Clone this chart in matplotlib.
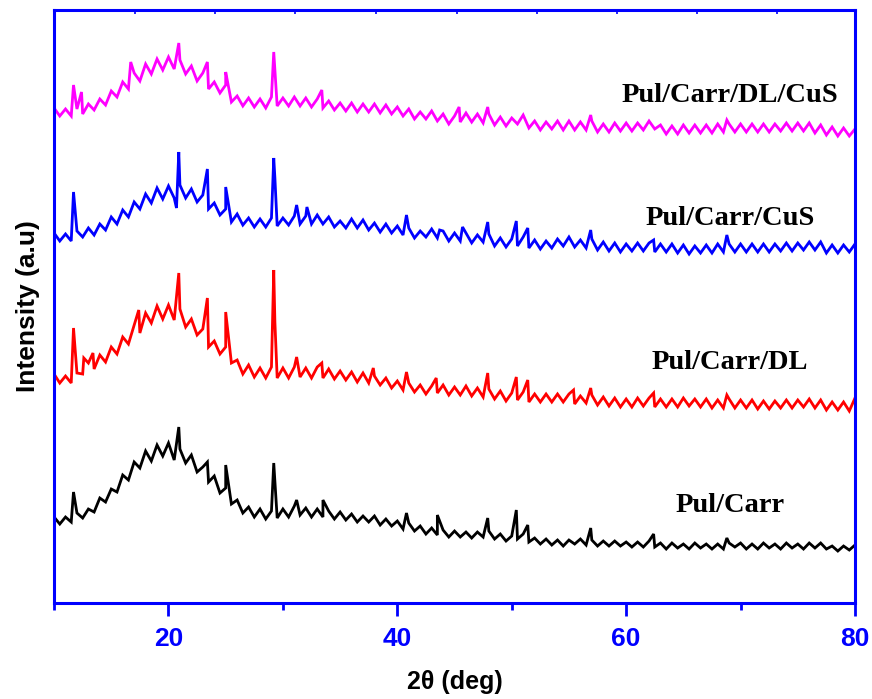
import numpy as np
import matplotlib
matplotlib.use('Agg')
import matplotlib.pyplot as plt

# 2-theta sampling grid (deg), 0.5 deg steps
theta = np.arange(10, 80.01, 0.5)

# intensities (a.u.), stacked traces
pul_carr = [86, 79, 86, 81, 90, 85, 94, 91, 105, 101, 114, 111, 128, 123, 141, 135,
            152, 142, 158, 147, 160, 143, 154, 140, 148, 131, 136, 121, 127, 110, 115, 99,
            103, 90, 96, 86, 94, 84, 92, 85, 94, 86, 97, 88, 95, 86, 94, 86,
            92, 84, 91, 83, 89, 81, 87, 81, 87, 78, 84, 77, 82, 74, 80, 72,
            77, 69, 75, 68, 73, 66, 72, 66, 71, 65, 71, 66, 72, 64, 69, 62,
            67, 64, 69, 61, 65, 59, 64, 58, 63, 57, 63, 59, 64, 58, 63, 57,
            62, 57, 62, 57, 61, 56, 61, 56, 62, 56, 60, 54, 60, 55, 59, 54,
            60, 55, 59, 54, 59, 54, 60, 56, 60, 54, 59, 54, 60, 55, 59, 54,
            60, 55, 59, 54, 60, 55, 60, 54, 57, 52, 57, 53, 58]
pul_carr_dl = [229, 220, 227, 220, 230, 229, 240, 234, 248, 241, 256, 249, 266, 259, 278, 270,
               290, 280, 297, 284, 298, 283, 294, 276, 284, 268, 274, 256, 262, 249, 256, 240,
               243, 229, 238, 226, 235, 225, 236, 225, 235, 225, 236, 226, 235, 225, 236, 225,
               234, 224, 232, 223, 231, 221, 230, 220, 227, 218, 225, 215, 222, 213, 220, 211,
               218, 209, 217, 210, 218, 208, 216, 208, 217, 207, 215, 206, 214, 204, 212, 202,
               210, 203, 211, 201, 209, 201, 209, 201, 209, 201, 209, 199, 207, 200, 208, 198,
               206, 197, 205, 196, 204, 196, 205, 197, 205, 196, 204, 196, 204, 196, 205, 197,
               204, 196, 204, 195, 203, 195, 204, 195, 203, 195, 203, 194, 202, 194, 202, 195,
               203, 195, 203, 196, 204, 195, 203, 193, 201, 193, 201, 192, 205]
pul_carr_cus = [370, 362, 369, 362, 372, 366, 375, 368, 379, 373, 386, 379, 393, 386, 401, 394,
                409, 400, 415, 404, 417, 405, 418, 405, 414, 401, 408, 394, 400, 388, 394, 381,
                389, 378, 385, 376, 384, 376, 385, 377, 385, 378, 387, 379, 387, 379, 388, 379,
                386, 376, 382, 375, 384, 375, 383, 373, 380, 371, 379, 370, 377, 368, 375, 365,
                372, 366, 374, 365, 372, 362, 370, 362, 370, 360, 368, 361, 369, 357, 365, 356,
                364, 357, 366, 355, 363, 354, 362, 355, 364, 357, 366, 356, 363, 355, 364, 353,
                361, 352, 360, 351, 359, 352, 360, 352, 360, 351, 359, 351, 359, 350, 358, 349,
                357, 350, 358, 350, 359, 351, 359, 351, 359, 351, 359, 351, 359, 351, 359, 352,
                360, 352, 360, 353, 361, 353, 361, 350, 358, 350, 358, 351, 359]
pul_carr_dl_cus = [495, 487, 494, 487, 494, 489, 499, 493, 504, 498, 512, 506, 521, 514, 530, 522,
                   539, 529, 544, 533, 546, 534, 543, 529, 537, 522, 530, 514, 521, 510, 518, 501,
                   507, 497, 505, 496, 504, 495, 506, 497, 505, 497, 506, 497, 505, 496, 504, 495,
                   502, 493, 500, 492, 500, 491, 499, 491, 499, 490, 498, 489, 496, 487, 494, 484,
                   491, 484, 492, 482, 489, 479, 487, 481, 490, 481, 489, 480, 489, 478, 486, 477,
                   485, 479, 488, 475, 482, 473, 481, 474, 482, 473, 482, 473, 481, 473, 482, 471,
                   479, 471, 480, 472, 480, 472, 480, 473, 482, 474, 478, 469, 477, 469, 478, 470,
                   478, 470, 478, 470, 479, 471, 479, 471, 479, 471, 479, 471, 479, 471, 479, 472,
                   480, 472, 480, 472, 480, 470, 478, 468, 476, 467, 475, 467, 474]

# sharp reflections (position, intensity)
pc_peak_x = [11.7, 20.9, 23.4, 25.0, 29.2, 31.2, 33.5, 40.8, 43.5, 47.9, 50.4, 51.4, 56.9, 62.4, 68.8]
pc_peak_y = [111, 176, 141, 138, 140, 103, 103, 90, 88, 85, 93, 78, 75, 69, 65]
pcd_peak_x = [11.7, 12.6, 13.4, 17.4, 20.9, 23.4, 25.0, 29.2, 29.3, 31.2, 33.4, 37.9, 40.8, 43.4,
              47.9, 50.4, 51.4, 55.4, 56.9, 62.4, 68.8]
pcd_peak_y = [275, 245, 250, 293, 330, 305, 291, 333, 281, 246, 240, 235, 231, 225,
              230, 226, 223, 213, 215, 210, 208]
pcc_peak_x = [11.7, 20.7, 20.9, 23.4, 25.0, 29.2, 29.3, 31.2, 32.1, 40.8, 43.7, 45.7, 47.9,
              50.4, 51.4, 56.9, 62.4, 68.8]
pcc_peak_y = [411, 395, 451, 434, 416, 445, 425, 398, 396, 388, 373, 376, 381,
              382, 375, 373, 363, 368]
pcdc_peak_x = [11.7, 12.4, 16.7, 20.9, 23.4, 25.0, 29.2, 33.4, 45.4, 47.9, 56.9, 68.8]
pcdc_peak_y = [518, 511, 541, 560, 541, 531, 551, 513, 496, 496, 488, 483]

names = ['Pul/Carr', 'Pul/Carr/DL', 'Pul/Carr/CuS', 'Pul/Carr/DL/CuS']
colors = ['black', '#ff0000', '#0000ff', '#ff00ff']
label_y = [98, 241, 385, 508]


def merge(base, px, py):
    x = np.concatenate([theta, px])
    y = np.concatenate([base, py])
    order = np.argsort(x, kind='stable')
    return x[order], y[order]


fig = plt.figure(figsize=(8.72, 6.99), dpi=100)
ax = fig.add_axes([0.062, 0.1373, 0.9185, 0.8484])

series = [(pul_carr, pc_peak_x, pc_peak_y),
          (pul_carr_dl, pcd_peak_x, pcd_peak_y),
          (pul_carr_cus, pcc_peak_x, pcc_peak_y),
          (pul_carr_dl_cus, pcdc_peak_x, pcdc_peak_y)]
for (base, px, py), c, name, ly in zip(series, colors, names, label_y):
    x, y = merge(base, px, py)
    ax.plot(x, y, color=c, lw=2.0, solid_joinstyle='miter')
    ax.text(69.1, ly, name, color='black', ha='center', va='center',
            fontsize=20.5, fontweight='bold', family='Liberation Serif')

ax.set_xlim(10, 80)
ax.set_ylim(0, 593)
ax.set_xticks([20, 40, 60, 80])
ax.set_xticks([10, 30, 50, 70], minor=True)
ax.set_yticks([])
for s in ax.spines.values():
    s.set_color('#0000ff')
    s.set_linewidth(2.2)
ax.tick_params(axis='x', which='major', direction='out', length=9, width=2,
               color='#0000ff', labelcolor='#0000ff', labelsize=19, pad=8)
ax.tick_params(axis='x', which='minor', direction='out', length=5, width=2,
               color='#0000ff')
for lab in ax.get_xticklabels():
    lab.set_fontweight('bold')
    lab.set_family('Liberation Sans')

top = ax.secondary_xaxis('top')
top.set_xticks([17.1, 24.1, 31.1, 38.1, 45.2, 52.2, 59.2, 66.2, 73.2])
top.tick_params(direction='in', length=3, width=1.2, color='#0000ff', labeltop=False)
top.spines['top'].set_visible(False)

ax.set_xlabel('2θ (deg)', fontsize=18, fontweight='bold', family='Liberation Sans', labelpad=14)
ax.set_ylabel('Intensity (a.u)', fontsize=19, fontweight='bold', family='Liberation Sans', labelpad=10)

fig.savefig('out.png', dpi=100)
